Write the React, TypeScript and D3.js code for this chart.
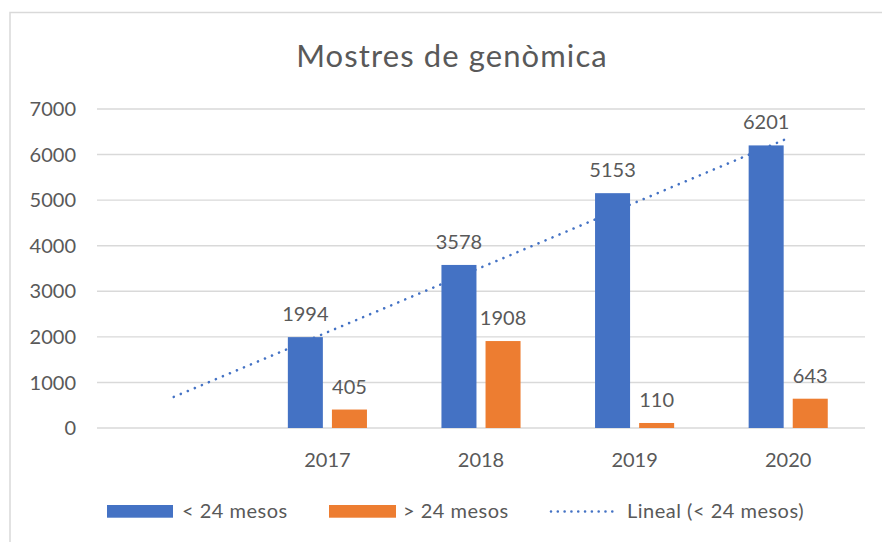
import React from "react";
import * as d3 from "d3";

const title = "Mostres de genòmica";
const categories = ["", "2017", "2018", "2019", "2020"];
const under24 = [null, 1994, 3578, 5153, 6201];
const over24 = [null, 405, 1908, 110, 643];
const yTicks = [0, 1000, 2000, 3000, 4000, 5000, 6000, 7000];
const seriesNames = ["< 24 mesos", "> 24 mesos", "Lineal (< 24 mesos)"];

const W = 882;
const H = 542;
const BLUE = "#4472C4";
const ORANGE = "#ED7D31";
const TEXT = "#595959";
const GRID = "#D9D9D9";
const FONT = "Lato, 'Open Sans', sans-serif";

export default function App() {
  const left = 97, right = 865, top = 109, bottom = 428;
  const x = d3.scaleBand<string>().domain(categories.map((c, i) => String(i))).range([left, right]).paddingInner(0).paddingOuter(0);
  const y = d3.scaleLinear().domain([0, 7000]).range([bottom, top]);
  const bw = x.bandwidth();
  const barW = bw * 0.228;
  const gap = bw * 0.059;
  const groupW = barW * 2 + gap;

  // linear trendline (least squares) on category index 1..n
  const pts = under24
    .map((v, i) => ({ i: i + 1, v }))
    .filter((p) => p.v != null) as { i: number; v: number }[];
  const mx = d3.mean(pts, (p) => p.i)!;
  const my = d3.mean(pts, (p) => p.v)!;
  const slope = d3.sum(pts, (p) => (p.i - mx) * (p.v - my)) / d3.sum(pts, (p) => (p.i - mx) ** 2);
  const icpt = my - slope * mx;
  const trendPts: [number, number][] = categories.map((c, k) => [
    x(String(k))! + bw / 2,
    y(icpt + slope * (k + 1)),
  ]);
  const line = d3.line();

  return (
    <svg width={W} height={H} style={{ position: "absolute", left: 0, top: 0, display: "block", background: "#fff" }}>
      <rect x={10} y={12.5} width={W} height={H} fill="#fff" stroke={GRID} strokeWidth={1.5} />
      <text x={452} y={66.5} textAnchor="middle" fontFamily={FONT} fontSize={31} letterSpacing={1.1} fill={TEXT}>
        {title}
      </text>
      {yTicks.map((t) => (
        <g key={t}>
          <line x1={left} x2={right} y1={y(t)} y2={y(t)} stroke={GRID} strokeWidth={1.4} />
          <text x={76} y={y(t)} dy="0.36em" textAnchor="end" fontFamily={FONT} fontSize={20} fill={TEXT}>
            {t}
          </text>
        </g>
      ))}
      <path d={line(trendPts)!} fill="none" stroke={BLUE} strokeWidth={2.6} strokeDasharray="0.01 7.6" strokeLinecap="round" />
      {categories.map((c, k) => {
        const x0 = x(String(k))! + (bw - groupW) / 2;
        const a = under24[k];
        const b = over24[k];
        return (
          <g key={k}>
            {a != null && <rect x={x0} y={y(a)} width={barW} height={bottom - y(a)} fill={BLUE} />}
            {b != null && <rect x={x0 + barW + gap} y={y(b)} width={barW} height={bottom - y(b)} fill={ORANGE} />}
            {a != null && (
              <text x={x0 + barW / 2} y={y(a) - 16} textAnchor="middle" fontFamily={FONT} fontSize={20} fill={TEXT}>
                {a}
              </text>
            )}
            {b != null && (
              <text x={x0 + barW * 1.5 + gap} y={y(b) - 16} textAnchor="middle" fontFamily={FONT} fontSize={20} fill={TEXT}>
                {b}
              </text>
            )}
            <text x={x(String(k))! + bw / 2} y={466.5} textAnchor="middle" fontFamily={FONT} fontSize={20} fill={TEXT}>
              {c}
            </text>
          </g>
        );
      })}
      <g fontFamily={FONT} fontSize={20} fill={TEXT} letterSpacing={0.5}>
        <rect x={107} y={505} width={66} height={12.7} fill={BLUE} />
        <text x={182} y={518}>{seriesNames[0]}</text>
        <rect x={329} y={505} width={67} height={12.7} fill={ORANGE} />
        <text x={403} y={518}>{seriesNames[1]}</text>
        <line x1={551} x2={613} y1={511.5} y2={511.5} stroke={BLUE} strokeWidth={2.6} strokeDasharray="0.01 6.8" strokeLinecap="round" />
        <text x={627} y={518}>{seriesNames[2]}</text>
      </g>
    </svg>
  );
}
